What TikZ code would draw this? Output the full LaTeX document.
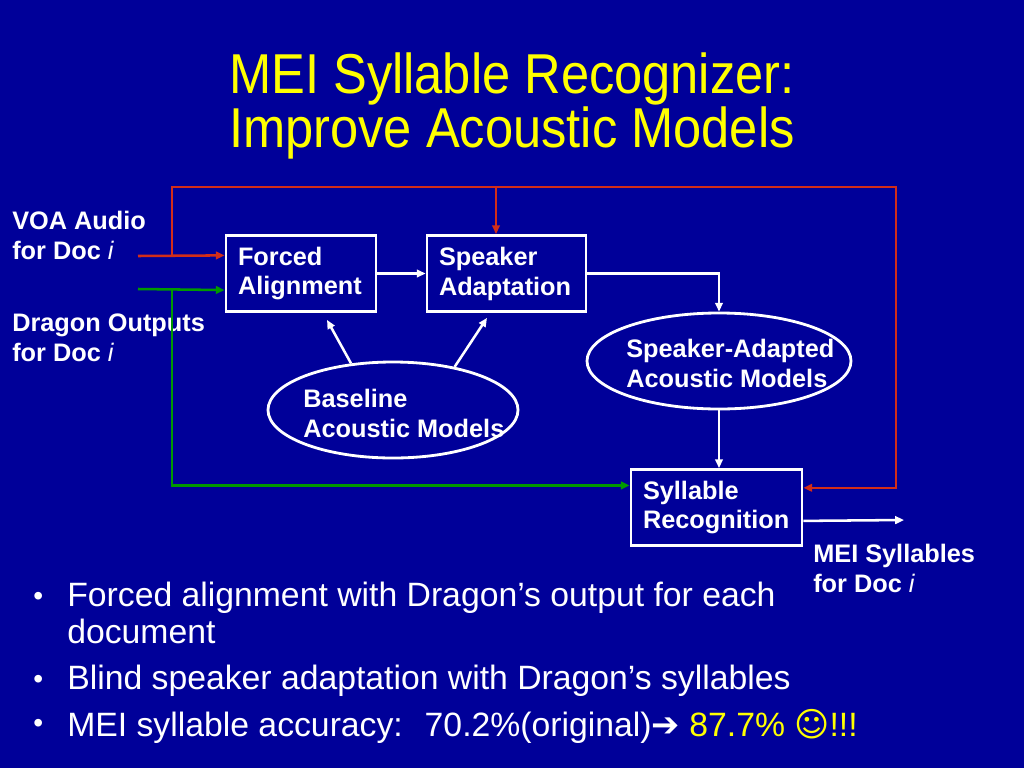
\documentclass[tikz,border=0pt]{standalone}
\usepackage{fontspec}
\setmainfont{Liberation Sans}
\newfontfamily\symfont{DejaVu Sans}
\newfontfamily\titlefont[FakeStretch=0.9]{Liberation Sans}
\usetikzlibrary{calc,shapes.geometric,arrows.meta}

\definecolor{slideblue}{RGB}{0,0,153}
\definecolor{slideyellow}{RGB}{255,255,0}
\definecolor{feedred}{RGB}{210,45,25}
\definecolor{feedgreen}{RGB}{0,153,0}

\def\docI{{\mdseries\itshape i}}

\tikzset{
	block/.style={draw=white, line width=2pt, text=white, align=left, inner xsep=3mm, inner ysep=0pt, minimum height=19mm, font=\fontsize{18}{21.3}\selectfont\bfseries},
	model/.style={draw=white, ellipse, line width=2pt, inner sep=0pt},
	lbl/.style={text=white, align=left, inner sep=0pt, font=\fontsize{18}{21.3}\selectfont\bfseries},
	wire/.style={line width=1.8pt, -{Triangle[length=2.2mm,width=1.9mm]}},
	point/.style={text=white, anchor=north west, inner sep=0pt, align=left, font=\fontsize{24}{26.3}\selectfont},
	dot/.style={text=white, anchor=base west, inner sep=0pt, font=\fontsize{20}{24}\selectfont},
}

\begin{document}
\begin{tikzpicture}[x=0.25mm, y=-0.25mm]
			%%%%% START %%%%%
			
			\fill[slideblue] (0,0) rectangle (1024,768);
			\useasboundingbox (0,0) rectangle (1024,768);
			
			\node[text=slideyellow, inner sep=0pt, align=center, anchor=north, font=\titlefont\fontsize{40}{39}\selectfont] (title) at (512,52) {MEI Syllable Recognizer:\\Improve Acoustic Models};
			
			\node[lbl, anchor=west] (voa) at (12,235) {VOA Audio\\for Doc \docI};
			\node[lbl, anchor=west] (dragon) at (12,338) {Dragon Outputs\\for Doc \docI};
			
			\node[block, text width=31.5mm] (fa) at (301,273.5) {Forced\\Alignment};
			\node[block, text width=33.75mm] (sa) at (506.5,273.5) {Speaker\\Adaptation};
			\node[block, text width=36.75mm] (sr) at (716.5,507.5) {Syllable\\Recognition};
			
			\node[model, minimum width=62.5mm, minimum height=24mm] (base) at (393,410) {};
			\node[lbl, anchor=west] (basetxt) at (303,413) {Baseline\\Acoustic Models};
			\node[model, minimum width=66mm, minimum height=24mm] (sam) at (719,361) {};
			\node[lbl, anchor=west] (samtxt) at (626,363) {Speaker-Adapted\\Acoustic Models};
			
			\node[lbl, anchor=west] (mei) at (813,568) {MEI Syllables\\for Doc \docI};
			
			% inputs
			\coordinate (redin) at (138,256);
			\coordinate (greenin) at (138,289);
			\coordinate (redjoin) at (172,256);
			\coordinate (greenjoin) at (172,289);
			\coordinate (redtop) at (896,187);
			\coordinate (reddrop) at (496,187);
			\coordinate (meiout) at (904,520);
			
			\draw[wire, feedred] (redin) -- ($(fa.north west)!0.27!(fa.south west)$);
			\draw[wire, feedgreen] (greenin) -- ($(fa.north west)!0.71!(fa.south west)$);
			\draw[wire, feedred] (redjoin) |- (redtop) |- ($(sr.north east)!0.25!(sr.south east)$);
			\draw[wire, feedred] (reddrop) -- (reddrop |- sa.north);
			\draw[wire, feedgreen] (greenjoin) |- ($(sr.north west)!0.22!(sr.south west)$);
			
			% flow
			\draw[wire, white] (fa.east) -- (sa.west);
			\draw[wire, white] (sa.east) -| (sam.north);
			\draw[wire, white] (sam.south) -- (sam.south |- sr.north);
			\draw[wire, white] (base.132) -- ($(fa.south)+(26,7)$);
			\draw[wire, white] (base.35) -- ($(sa.south)+(-19.5,5)$);
			\draw[wire, white] ($(sr.north east)!0.67!(sr.south east)$) -- (meiout);
			
			% bullets
			\node[dot] (dot1) at (33,605) {\textbullet};
			\node[point] (pt1) at (67,582) {Forced alignment with Dragon’s output for each\\document};
			\node[dot] (dot2) at (33,688) {\textbullet};
			\node[point] (pt2) at (67,665) {Blind speaker adaptation with Dragon’s syllables};
			\node[dot] (dot3) at (33,732) {\textbullet};
			\node[point] (pt3) at (67,709) {MEI syllable accuracy:~ 70.2\%(original){\symfont\bfseries ➔} \textcolor{slideyellow}{87.7\% {\symfont ☺}!!!}};
			
			%%%%% END %%%%%
\end{tikzpicture}
\end{document}
